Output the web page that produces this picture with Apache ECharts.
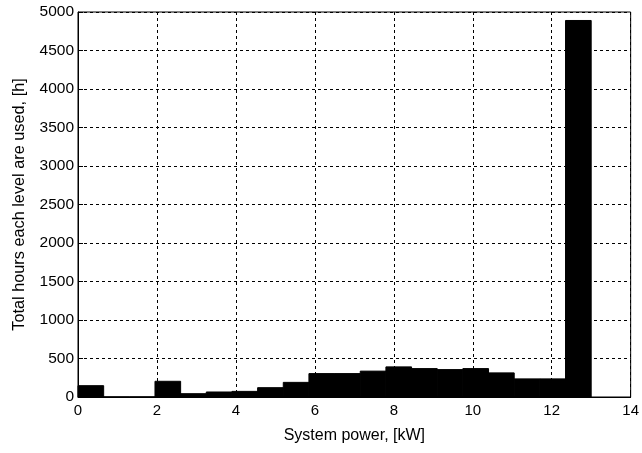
<!DOCTYPE html>
<html>
<head>
  <meta charset="UTF-8">
  <script src="https://cdn.jsdelivr.net/npm/echarts@6/dist/echarts.min.js"></script>
  <style>
    html, body { margin: 0; padding: 0; background: #fff; }
    #chart { width: 642px; height: 453px; }
  </style>
</head>
<body>
<div id="chart"></div>
<script>
  // histogram bins (kW) and hours per bin
  var binStart = [0, 0.65, 1.3, 1.95, 2.6, 3.25, 3.9, 4.55, 5.2, 5.85, 6.5, 7.15, 7.8, 8.45, 9.1, 9.75, 10.4, 11.05, 11.7, 12.35];
  var binEnd   = [0.65, 1.3, 1.95, 2.6, 3.25, 3.9, 4.55, 5.2, 5.85, 6.5, 7.15, 7.8, 8.45, 9.1, 9.75, 10.4, 11.05, 11.7, 12.35, 13.0];
  var hours    = [147, 0, 0, 204, 43, 65, 73, 121, 190, 304, 304, 336, 391, 369, 356, 369, 313, 235, 235, 4890];

  var xTicks = [0, 2, 4, 6, 8, 10, 12, 14];
  var yTicks = [0, 500, 1000, 1500, 2000, 2500, 3000, 3500, 4000, 4500, 5000];

  var data = [];
  for (var i = 0; i < hours.length; i++) {
    data.push([binStart[i], binEnd[i], hours[i]]);
  }

  var font = 'Liberation Sans, Arial, sans-serif';
  var plain = function (v) { return String(v); };
  var chart = echarts.init(document.getElementById('chart'));
  chart.setOption({
    animation: false,
    grid: {
      left: 78, right: 9, top: 12, bottom: 56,
      show: true, borderColor: '#000', borderWidth: 1, backgroundColor: '#fff'
    },
    xAxis: {
      type: 'value',
      min: xTicks[0], max: xTicks[xTicks.length - 1], interval: 2,
      name: 'System power, [kW]',
      nameLocation: 'middle', nameGap: 31,
      nameTextStyle: { color: '#000', fontSize: 16, fontFamily: font },
      axisLine: { show: true, lineStyle: { color: '#000', width: 1 } },
      axisTick: { show: true, inside: true, length: 5, lineStyle: { color: '#000' } },
      axisLabel: { color: '#000', fontSize: 15, fontFamily: font, margin: 6, formatter: plain },
      splitLine: { show: true, lineStyle: { color: '#000', type: [3, 3], width: 1 } }
    },
    yAxis: {
      type: 'value',
      min: yTicks[0], max: yTicks[yTicks.length - 1], interval: 500,
      name: 'Total hours each level are used, [h]',
      nameLocation: 'middle', nameGap: 50,
      nameTextStyle: { color: '#000', fontSize: 16.3, fontFamily: font },
      axisLine: { show: true, lineStyle: { color: '#000', width: 1 } },
      axisTick: { show: true, inside: true, length: 5, lineStyle: { color: '#000' } },
      axisLabel: { color: '#000', fontSize: 15.5, fontFamily: font, margin: 4, formatter: plain },
      splitLine: { show: true, lineStyle: { color: '#000', type: [3, 3], width: 1 } }
    },
    series: [{
      type: 'custom',
      data: data,
      encode: { x: [0, 1], y: 2 },
      renderItem: function (params, api) {
        var p0 = api.coord([api.value(0), api.value(2)]);
        var p1 = api.coord([api.value(1), 0]);
        return {
          type: 'rect',
          shape: { x: p0[0], y: p0[1], width: p1[0] - p0[0], height: p1[1] - p0[1] },
          style: { fill: '#000', stroke: '#000', lineWidth: 1 }
        };
      },
      z: 3
    }]
  });
</script>
</body>
</html>
